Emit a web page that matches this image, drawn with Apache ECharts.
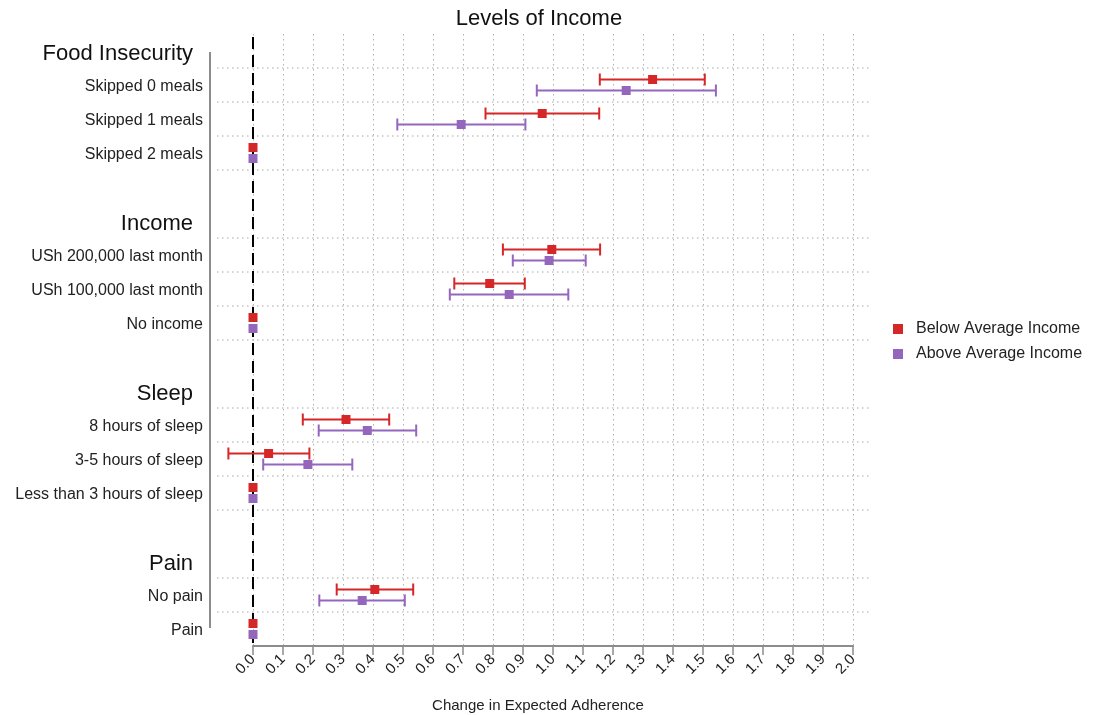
<!DOCTYPE html>
<html><head><meta charset="utf-8">
<script src="https://cdn.jsdelivr.net/npm/echarts@6/dist/echarts.min.js"></script>
<style>html,body{margin:0;padding:0;background:#fff}#chart{width:1101px;height:715px}</style>
</head><body><div id="chart"></div>
<script>
// ---------------- DATA ----------------
const chartTitle = 'Levels of Income';
const xAxisTitle = 'Change in Expected Adherence';
const groups = ['Food Insecurity', 'Income', 'Sleep', 'Pain'];
const groupItems = [
  ['Skipped 0 meals', 'Skipped 1 meals', 'Skipped 2 meals'],
  ['USh 200,000 last month', 'USh 100,000 last month', 'No income'],
  ['8 hours of sleep', '3-5 hours of sleep', 'Less than 3 hours of sleep'],
  ['No pain', 'Pain']
];
const seriesNames = ['Below Average Income', 'Above Average Income'];
// values in flat row order (same order as groupItems)
const belowEst  = [1.332, 0.964, 0,    0.996, 0.789, 0,    0.310, 0.052, 0,    0.406, 0];
const belowLow  = [1.156, 0.775, null, 0.833, 0.671, null, 0.166, -0.082, null, 0.279, null];
const belowHigh = [1.506, 1.154, null, 1.157, 0.906, null, 0.454, 0.188, null, 0.534, null];
const aboveEst  = [1.244, 0.694, 0,    0.987, 0.854, 0,    0.381, 0.183, 0,    0.364, 0];
const aboveLow  = [0.946, 0.481, null, 0.866, 0.656, null, 0.219, 0.034, null, 0.221, null];
const aboveHigh = [1.543, 0.908, null, 1.109, 1.051, null, 0.544, 0.331, null, 0.506, null];
const xMin = 0, xMax = 2, xStep = 0.1;

// ---------------- BUILD ----------------
const colors = ['#d62728', '#9467bd'];
const offsets = [-5.5, 5.5];
const FONT = "'Liberation Sans', Arial, sans-serif";

const cats = [];
const rowCat = [];
groups.forEach((g, gi) => {
  cats.push({ key: 'H' + gi, text: g, header: true });
  groupItems[gi].forEach(it => {
    rowCat.push(cats.length);
    cats.push({ key: 'R' + rowCat.length, text: it, header: false });
  });
  if (gi < groups.length - 1) cats.push({ key: 'G' + gi, text: '', header: false });
});
const catByKey = {};
cats.forEach(c => catByKey[c.key] = c);

const est = [belowEst, aboveEst], low = [belowLow, aboveLow], high = [belowHigh, aboveHigh];

function errRender(color, off) {
  return function (params, api) {
    const lo = api.value(0), hi = api.value(1), row = api.value(3);
    const p1 = api.coord([lo, row]), p2 = api.coord([hi, row]);
    const y = p1[1] + off, h = 6;
    const st = { stroke: color, lineWidth: 2, fill: null };
    return {
      type: 'group', children: [
        { type: 'line', shape: { x1: p1[0], y1: y, x2: p2[0], y2: y }, style: st },
        { type: 'line', shape: { x1: p1[0], y1: y - h, x2: p1[0], y2: y + h }, style: st },
        { type: 'line', shape: { x1: p2[0], y1: y - h, x2: p2[0], y2: y + h }, style: st }
      ]
    };
  };
}

function decorRender(params, api) {
  const band = api.size([0, 1])[1];
  const x0 = api.coord([xMin, 0])[0];
  const x2 = api.coord([xMax, 0])[0];
  const children = [];
  const bounds = new Set();
  rowCat.forEach(c => {
    bounds.add(c - 0.5);
    if (c + 0.5 < cats.length - 1) bounds.add(c + 0.5);
  });
  const dotted = { stroke: '#a8a8a8', lineWidth: 1, lineDash: [1.5, 3.5], fill: null };
  bounds.forEach(b => {
    const y = api.coord([0, b + 0.5])[1] - band / 2;
    children.push({ type: 'line', shape: { x1: x0 - 36, y1: y, x2: x2 + 18, y2: y }, style: dotted });
  });
  // left y axis line
  const yTop = api.coord([0, 0])[1];
  const yBot = api.coord([0, cats.length - 1])[1];
  children.push({ type: 'line', shape: { x1: x0 - 43, y1: yTop + 1, x2: x0 - 43, y2: yBot - 1 },
    style: { stroke: '#8c8c8c', lineWidth: 2, fill: null } });
  // zero reference line
  const cs = params.coordSys;
  children.push({ type: 'line', shape: { x1: x0, y1: cs.y + 3, x2: x0, y2: cs.y + cs.height },
    style: { stroke: '#000', lineWidth: 2, lineDash: [12, 6], fill: null } });
  return { type: 'group', children };
}

const series = [{
  type: 'custom', name: 'decor', silent: true, clip: false, z: 1,
  renderItem: decorRender, data: [[0, 0]], encode: { x: 0, y: 1 }
}];
seriesNames.forEach((nm, si) => {
  const errData = [];
  rowCat.forEach((c, i) => {
    if (low[si][i] != null) errData.push([low[si][i], high[si][i], est[si][i], c]);
  });
  series.push({
    type: 'custom', name: nm + ' CI', silent: true, clip: false, z: 2,
    renderItem: errRender(colors[si], offsets[si]),
    data: errData, encode: { x: [0, 1], y: 3 }
  });
  series.push({
    type: 'scatter', name: nm, symbol: 'rect', symbolSize: 9, symbolOffset: [0, offsets[si]],
    itemStyle: { color: colors[si], opacity: 1 }, z: 3, clip: false,
    data: rowCat.map((c, i) => [est[si][i], c])
  });
});

const chart = echarts.init(document.getElementById('chart'), null, { renderer: 'canvas' });
chart.setOption({
  animation: false,
  backgroundColor: '#fff',
  textStyle: { fontFamily: FONT },
  grid: { left: 253, right: 248, top: 34, bottom: 69, containLabel: false },
  legend: {
    orient: 'vertical', left: 888, top: 316, itemWidth: 10, itemHeight: 10, itemGap: 9,
    data: seriesNames.map(n => ({ name: n, icon: 'rect' })),
    textStyle: { fontSize: 16, color: '#222', fontFamily: FONT, padding: [0, 0, 0, 8] }
  },
  xAxis: {
    type: 'value', min: xMin, max: xMax, interval: xStep,
    axisLine: { show: true, lineStyle: { color: '#8c8c8c', width: 2 } },
    axisTick: { show: true, length: 9, lineStyle: { color: '#8c8c8c', width: 1.5 } },
    axisLabel: { rotate: 45, fontSize: 15, color: '#222', margin: 11, fontFamily: FONT,
      formatter: v => v.toFixed(1) },
    splitLine: { show: true, lineStyle: { color: '#b0b0b0', width: 1, type: [1.5, 3.5] } }
  },
  yAxis: {
    type: 'category', inverse: true, data: cats.map(c => c.key),
    axisLine: { show: false }, axisTick: { show: false }, splitLine: { show: false },
    axisLabel: {
      interval: 0, margin: 50, fontFamily: FONT,
      formatter: v => { const c = catByKey[v]; if (!c || !c.text) return ''; return c.header ? '{h|' + c.text + '}' : '{i|' + c.text + '}'; },
      rich: {
        h: { fontSize: 22, color: '#111', padding: [6, 10, 0, 0], fontFamily: FONT },
        i: { fontSize: 16, color: '#222', padding: [4, 0, 0, 0], fontFamily: FONT }
      }
    }
  },
  graphic: [
    { type: 'text', style: { text: chartTitle, x: 539, y: 19, fontSize: 22, fill: '#111', fontFamily: FONT, textAlign: 'center', textVerticalAlign: 'middle' } },
    { type: 'text', style: { text: xAxisTitle, x: 538, y: 706, fontSize: 15, fill: '#222', fontFamily: FONT, textAlign: 'center', textVerticalAlign: 'middle' } }
  ],
  series
});
</script></body></html>
